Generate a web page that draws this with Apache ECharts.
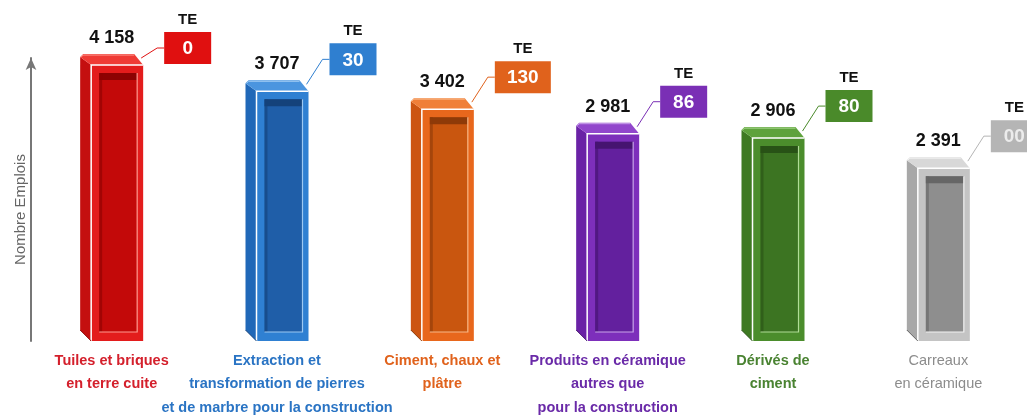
<!DOCTYPE html>
<html>
<head>
<meta charset="utf-8">
<script src="https://cdn.jsdelivr.net/npm/echarts@6/dist/echarts.min.js"></script>
<style>
html, body { margin: 0; padding: 0; background: #fff; }
#chart { width: 1027px; height: 416px; }
</style>
</head>
<body>
<div id="chart"></div>
<script>
var categories = [
    'Tuiles et briques\nen terre cuite',
    'Extraction et\ntransformation de pierres\net de marbre pour la construction',
    'Ciment, chaux et\nplâtre',
    'Produits en céramique\nautres que\npour la construction',
    'Dérivés de\nciment',
    'Carreaux\nen céramique'
];
var emplois = [4158, 3707, 3402, 2981, 2906, 2391];
var teLabels = ['0', '30', '130', '86', '80', '00'];

// the bars in the picture start below zero (not proportional), so the axis does too
var Y_MIN = -760;
var Y_MAX = 4090;

var FONT = '"Liberation Sans", Arial, sans-serif';

var palette = [
    { front: '#e31c1c', side: '#c40f0f', top: '#ef3b35', inner: '#c30909', shadow: '#8c0202', light: '#ff9a90', box: '#e01010', boxText: '#fff', label: '#d4202c', weight: 'bold' },
    { front: '#2f80d2', side: '#2068b8', top: '#4b95df', inner: '#1f5ea8', shadow: '#14427a', light: '#9cc8f2', box: '#2f7fd0', boxText: '#fff', label: '#2a74c4', weight: 'bold' },
    { front: '#e8671c', side: '#cc5512', top: '#f07f38', inner: '#c9560f', shadow: '#8e3a08', light: '#f8b888', box: '#e0621c', boxText: '#fff', label: '#e0621c', weight: 'bold' },
    { front: '#7d2fbb', side: '#6a22a6', top: '#9146cc', inner: '#63209e', shadow: '#461470', light: '#c9a4ea', box: '#7a2fb5', boxText: '#fff', label: '#6a2aa8', weight: 'bold' },
    { front: '#4b8d2c', side: '#3e7a22', top: '#5ea23c', inner: '#3c7422', shadow: '#285216', light: '#b0dc96', box: '#4a8a2a', boxText: '#fff', label: '#4a8332', weight: 'bold' },
    { front: '#c4c4c4', side: '#a8a8a8', top: '#d8d8d8', inner: '#8e8e8e', shadow: '#666', light: '#f2f2f2', box: '#b5b5b5', boxText: '#ececec', label: '#8c8c8c', weight: 'normal' }
];

function fmt(v) {
    return String(v).replace(/\B(?=(\d{3})+(?!\d))/g, ' ');
}

function renderBar(params, api) {
    var i = api.value(0);
    var top = api.coord([i, api.value(1)]);
    var base = api.coord([i, Y_MIN]);
    var c = palette[i];
    var w = 63, d = 11;
    var x0 = top[0] - w / 2, x1 = top[0] + w / 2;
    var ty = top[1], by = base[1];
    var fx = x0 + d, fy = ty + d;
    var ix = fx + 8, iy = fy + 8, iw = x1 - 6 - ix, ih = by - 9 - iy;

    var bw = teLabels[i].length >= 3 ? 56 : 47;
    var bh = 32;
    var bx = x1 + 21;
    var bty = Math.max(32, ty - 37);

    return {
        type: 'group',
        children: [
            { type: 'polygon', shape: { points: [[x0, ty + 3], [fx, fy], [fx, by], [x0, by - d]] }, style: { fill: c.side } },
            { type: 'polygon', shape: { points: [[x0, ty + 3], [x0 + 3, ty], [x1 - d + 2, ty], [x1, fy], [fx, fy]] }, style: { fill: c.top } },
            { type: 'rect', shape: { x: fx, y: fy, width: x1 - fx, height: by - fy }, style: { fill: c.front } },
            { type: 'polyline', shape: { points: [[fx, by], [fx, fy], [x1, fy]] }, style: { stroke: '#fff', lineWidth: 1.5, fill: null } },
            { type: 'polyline', shape: { points: [[x0 + 1, ty + 3], [x0 + 3, ty + 1], [x1 - d + 2, ty + 1]] }, style: { stroke: c.light, lineWidth: 1, fill: null } },
            { type: 'rect', shape: { x: ix, y: iy, width: iw, height: ih }, style: { fill: c.inner } },
            { type: 'rect', shape: { x: ix, y: iy, width: iw, height: 7 }, style: { fill: c.shadow } },
            { type: 'rect', shape: { x: ix, y: iy, width: 3, height: ih }, style: { fill: c.shadow, opacity: 0.6 } },
            { type: 'polyline', shape: { points: [[ix, iy + ih], [ix + iw, iy + ih], [ix + iw, iy]] }, style: { stroke: c.light, lineWidth: 1.2, fill: null } },
            { type: 'line', shape: { x1: x0, y1: by - d, x2: fx, y2: by }, style: { stroke: c.shadow, lineWidth: 1 } },
            {
                type: 'text',
                style: { text: fmt(api.value(1)), x: top[0], y: ty - 16, align: 'center', verticalAlign: 'middle',
                    fill: '#111', font: 'bold 18px ' + FONT }
            },
            { type: 'polyline', shape: { points: [[x1 - 2, ty + 4], [bx - 7, bty + bh / 2], [bx, bty + bh / 2]] }, style: { stroke: c.box, lineWidth: 1, fill: null } },
            { type: 'rect', shape: { x: bx, y: bty, width: bw, height: bh }, style: { fill: c.box } },
            {
                type: 'text',
                style: { text: teLabels[i], x: bx + bw / 2, y: bty + bh / 2 + 1, align: 'center', verticalAlign: 'middle',
                    fill: c.boxText, font: 'bold 19px ' + FONT }
            },
            {
                type: 'text',
                style: { text: 'TE', x: bx + bw / 2, y: bty - 12, align: 'center', verticalAlign: 'middle',
                    fill: '#111', font: 'bold 15px ' + FONT }
            }
        ]
    };
}

var rich = {};
palette.forEach(function (c, i) {
    rich['c' + i] = { color: c.label, fontWeight: c.weight, fontSize: 14.5, lineHeight: 23.5, fontFamily: FONT };
});

var myChart = echarts.init(document.getElementById('chart'));
var option = {
    backgroundColor: '#fff',
    animation: false,
    grid: { left: 29, right: 6, top: 58, bottom: 75 },
    xAxis: {
        type: 'category',
        data: categories,
        axisLine: { show: false },
        axisTick: { show: false },
        axisLabel: {
            interval: 0,
            margin: 8,
            formatter: function (value, index) {
                return value.split('\n').map(function (l) { return '{c' + index + '|' + l + '}'; }).join('\n');
            },
            rich: rich
        }
    },
    yAxis: {
        type: 'value',
        min: Y_MIN,
        max: Y_MAX,
        offset: -2,
        name: 'Nombre Emplois',
        nameLocation: 'middle',
        nameRotate: 90,
        nameGap: 3,
        nameTextStyle: { color: '#666', fontSize: 15, fontFamily: FONT, padding: [0, 20, 0, 0] },
        axisLine: { show: true, symbol: ['none', 'arrow'], symbolSize: [8, 12], lineStyle: { color: '#777', width: 2 } },
        axisTick: { show: false },
        axisLabel: { show: false },
        splitLine: { show: false }
    },
    series: [{
        type: 'custom',
        clip: false,
        renderItem: renderBar,
        data: emplois.map(function (v, i) { return [i, v]; })
    }]
};
myChart.setOption(option);
</script>
</body>
</html>
